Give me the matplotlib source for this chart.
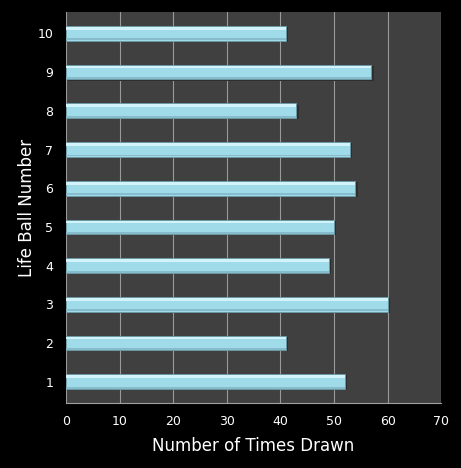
import matplotlib.pyplot as plt
import numpy as np

balls = [1, 2, 3, 4, 5, 6, 7, 8, 9, 10]
times_drawn = [52, 41, 60, 49, 50, 54, 53, 43, 57, 41]

fig = plt.figure(figsize=(4.61, 4.68), dpi=100, facecolor='black')
ax = fig.add_axes([0.143, 0.139, 0.814, 0.835])
ax.set_facecolor('#404040')

y = np.arange(len(balls))
# soft shadow under the bars
ax.barh(y - 0.03, times_drawn, height=0.38, left=0.4, color='#2e2e2e',
        linewidth=0, zorder=2)
ax.barh(y, times_drawn, height=0.38, color='#a0dbea', edgecolor='#6c9ba7',
        linewidth=0.6, zorder=3)
# glossy highlight near the top edge of each bar
ax.barh(y + 0.13, times_drawn, height=0.07, color='#d2f3fa', linewidth=0, zorder=4)
ax.barh(y - 0.155, times_drawn, height=0.05, color='#86bccb', linewidth=0, zorder=4)

ax.set_xlim(0, 70)
ax.set_ylim(-0.55, len(balls) - 0.45)
ax.set_xticks(range(0, 71, 10))
ax.set_yticks(y)
ax.set_yticklabels([str(b) for b in balls])
ax.xaxis.grid(True, color='#9a9a9a', linewidth=0.8, zorder=1)
ax.set_axisbelow(True)

for side in ['top', 'right', 'left']:
    ax.spines[side].set_visible(False)
ax.spines['bottom'].set_color('#a0a0a0')

ax.tick_params(colors='white', labelsize=9, length=0, pad=9)
ax.set_xlabel('Number of Times Drawn', color='white', fontsize=12, labelpad=6)
ax.set_ylabel('Life Ball Number', color='white', fontsize=12, labelpad=1)

fig.savefig('out.png', dpi=100, facecolor='black')
